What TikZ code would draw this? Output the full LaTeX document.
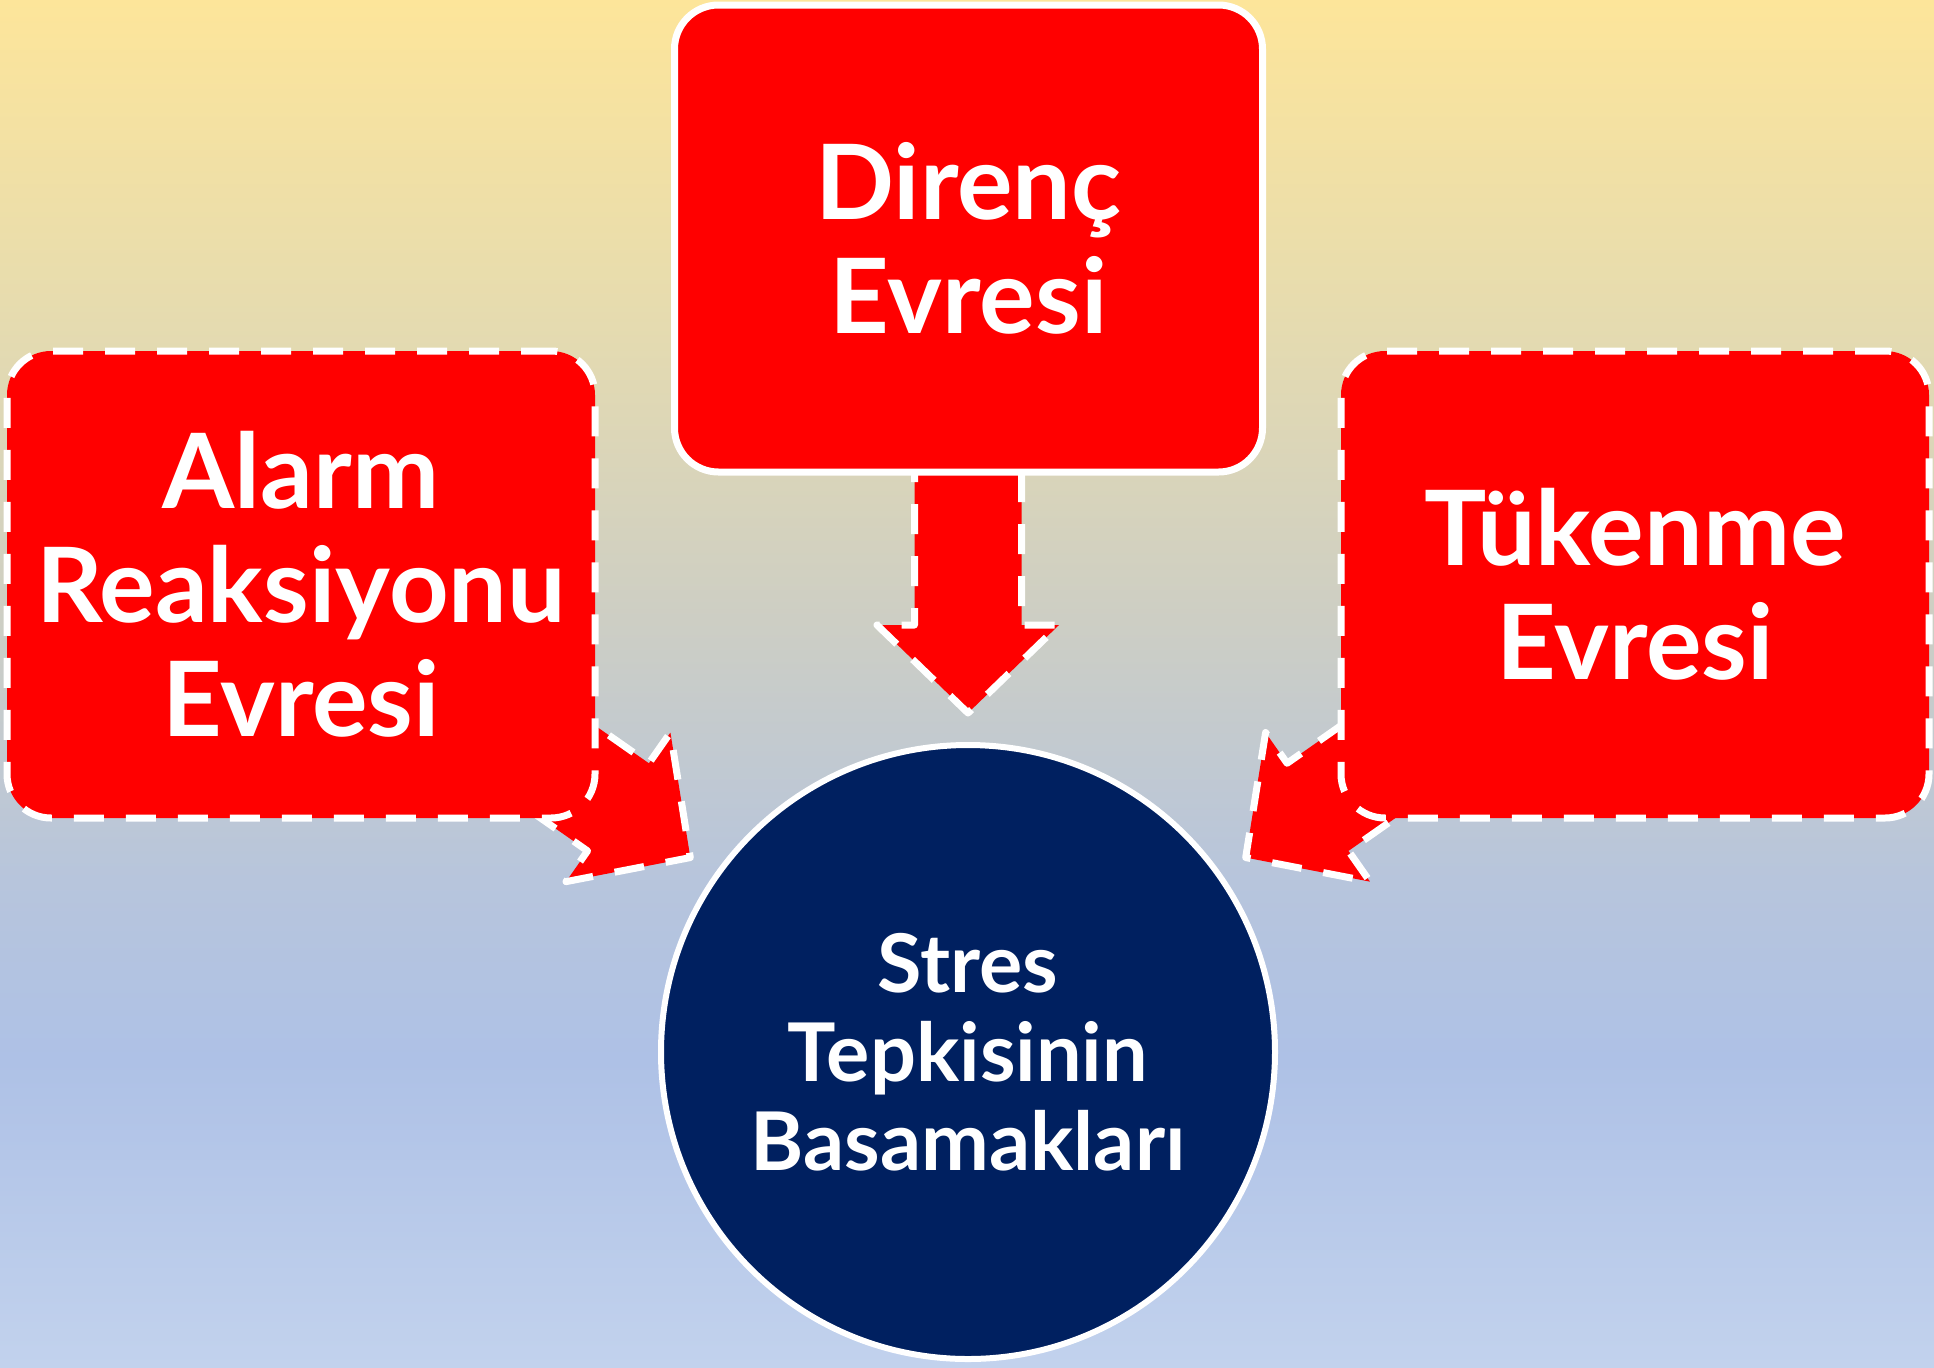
\documentclass[tikz,border=0pt]{standalone}
\usepackage{fontspec}
\setmainfont{Lato}
\definecolor{bgtop}{RGB}{253,229,154}
\definecolor{bgA}{RGB}{231,220,174}
\definecolor{bgB}{RGB}{205,206,196}
\definecolor{bgC}{RGB}{183,197,220}
\definecolor{bgD}{RGB}{174,193,230}
\definecolor{bgbot}{RGB}{194,210,237}
\definecolor{navy}{RGB}{0,32,96}
\pgfdeclareverticalshading{bgshade}{100bp}{color(0bp)=(bgbot); color(25bp)=(bgbot); color(36.23bp)=(bgD); color(42.81bp)=(bgC); color(52.32bp)=(bgB); color(64.03bp)=(bgA); color(75bp)=(bgtop); color(100bp)=(bgtop)}
\tikzset{
  boxbase/.style={rectangle, fill=red, draw=white, line width=3.5pt, rounded corners=22pt,
    minimum width=294pt, minimum height=233.5pt, inner sep=0pt, align=center, text=white,
    font=\bfseries\fontsize{52}{57}\selectfont},
  solidbox/.style={boxbase},
  dashbox/.style={boxbase, dash pattern=on 15pt off 11pt},
  hubcircle/.style={circle, fill=navy, draw=white, line width=3pt, minimum size=307pt,
    inner sep=0pt, align=center, text=white, font=\bfseries\fontsize{40.5}{44.5}\selectfont},
  blockarrow/.style={fill=red, draw=white, line width=3.5pt, dash pattern=on 15pt off 11pt, line join=round}
}
\begin{document}
\begin{tikzpicture}[x=0.5pt, y=-0.5pt]
\useasboundingbox (0,0) rectangle (1934,1367);
\shade[shading=bgshade] (0,0) rectangle (1934,1367);
\coordinate (cc) at (968,1052);
\foreach \ang in {0,55,-55}{
  \begin{scope}[shift={(cc)}, rotate=\ang]
    \path[blockarrow] (-53.5,-600) -- (-53.5,-427) -- (-91,-427) -- (0,-339) -- (91,-427) -- (53.5,-427) -- (53.5,-600);
  \end{scope}
}
\node[solidbox] (direnc) at (968.5,238.5) {Direnç\\Evresi};
\node[dashbox] (alarm) at (301,584.5) {Alarm\\Reaksiyonu\\Evresi};
\node[dashbox] (tukenme) at (1635,584.5) {Tükenme\\Evresi};
\node[hubcircle] (stres) at (cc) {Stres\\Tepkisinin\\Basamakları};
\end{tikzpicture}
\end{document}
